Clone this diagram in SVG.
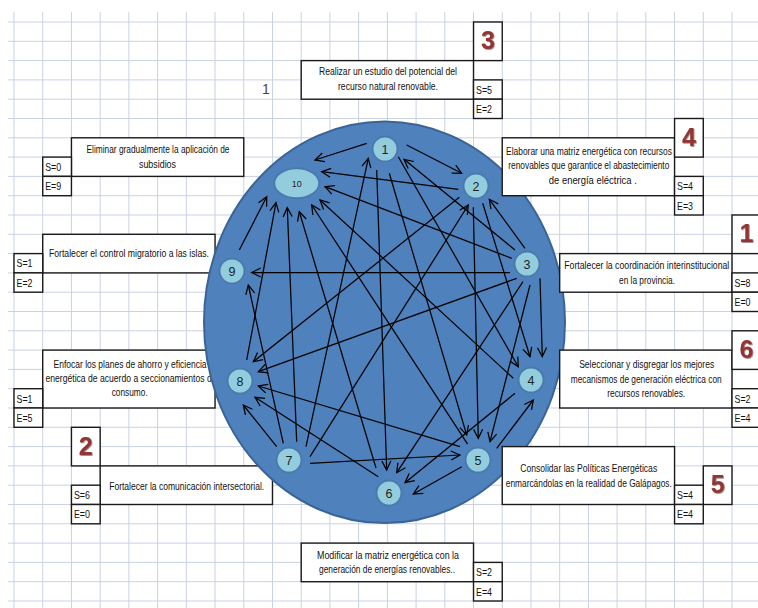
<svg xmlns="http://www.w3.org/2000/svg" width="758" height="608" viewBox="0 0 758 608">
<style>
.grid{stroke:#c9d1e3;stroke-width:1;fill:none}
.cell{fill:#fff;stroke:#1a1a1a;stroke-width:1.4}
.t{font-family:"Liberation Sans",Arial,sans-serif;font-size:10px;fill:#111;text-anchor:middle}
.se{font-family:"Liberation Sans",Arial,sans-serif;font-size:11px;fill:#111}
.big{font-family:"Liberation Sans",Arial,sans-serif;font-size:25px;font-weight:bold;fill:#943634;text-anchor:middle;filter:url(#sh)}
.nd{fill:#93cddd;stroke:#4a7aae;stroke-width:2}
.nl{font-family:"Liberation Sans",Arial,sans-serif;font-size:12.5px;fill:#1f1f1f;text-anchor:middle}
.e{stroke:#000;stroke-width:1.25;fill:none;marker-end:url(#ah)}
</style>
<defs>
<marker id="ah" markerUnits="userSpaceOnUse" markerWidth="12" markerHeight="12" viewBox="0 0 12 12" refX="10" refY="6" orient="auto">
<path d="M1,1.5 L10,6 L1,10.5" fill="none" stroke="#000" stroke-width="1.25"/>
</marker>
<filter id="sh" x="-20%" y="-20%" width="150%" height="150%">
<feDropShadow dx="0.8" dy="0.8" stdDeviation="0.3" flood-color="#4a1514" flood-opacity="0.6"/>
</filter>
</defs>
<rect width="758" height="608" fill="#fff"/>
<g id="grid">
<path class="grid" d="M14,12V608M42.72,12V608M71.44,12V608M100.16,12V608M128.88,12V608M157.6,12V608M186.32,12V608M215.04,12V608M243.76,12V608M272.48,12V608M301.2,12V608M329.92,12V608M358.64,12V608M387.36,12V608M416.08,12V608M444.8,12V608M473.52,12V608M502.24,12V608M530.96,12V608M559.68,12V608M588.4,12V608M617.12,12V608M645.84,12V608M674.56,12V608M703.28,12V608M732,12V608"/>
<path class="grid" d="M8,22H758M8,41.3H758M8,60.6H758M8,79.9H758M8,99.2H758M8,118.5H758M8,137.8H758M8,157.1H758M8,176.4H758M8,195.7H758M8,215H758M8,234.3H758M8,253.6H758M8,272.9H758M8,292.2H758M8,311.5H758M8,330.8H758M8,350.1H758M8,369.4H758M8,388.7H758M8,408H758M8,427.3H758M8,446.6H758M8,465.9H758M8,485.2H758M8,504.5H758M8,523.8H758M8,543.1H758M8,562.4H758M8,581.7H758M8,601H758"/>
</g>
<text x="266" y="94" font-family="Liberation Sans, Arial, sans-serif" font-size="14" fill="#4f4332" text-anchor="middle">1</text>

<g id="box10">
<rect class="cell" x="71.44" y="137.8" width="172.32" height="38.6"/>
<rect class="cell" x="42.72" y="157.1" width="28.72" height="19.3"/>
<rect class="cell" x="42.72" y="176.4" width="28.72" height="19.3"/>
<text class="t" x="158" y="152.8" textLength="143" lengthAdjust="spacingAndGlyphs">Eliminar gradualmente la aplicación de</text>
<text class="t" x="157.5" y="167.5" textLength="37" lengthAdjust="spacingAndGlyphs">subsidios</text>
<text class="se" x="45.2" y="170.9" textLength="16" lengthAdjust="spacingAndGlyphs">S=0</text>
<text class="se" x="45.2" y="190.2" textLength="16" lengthAdjust="spacingAndGlyphs">E=9</text>
</g>
<g id="box9">
<rect class="cell" x="42.72" y="234.3" width="172.32" height="38.6"/>
<rect class="cell" x="14" y="253.6" width="28.72" height="19.3"/>
<rect class="cell" x="14" y="272.9" width="28.72" height="19.3"/>
<text class="t" x="129" y="256.8" textLength="160" lengthAdjust="spacingAndGlyphs">Fortalecer el control migratorio a las islas.</text>
<text class="se" x="16.5" y="267.4" textLength="16" lengthAdjust="spacingAndGlyphs">S=1</text>
<text class="se" x="16.5" y="286.7" textLength="16" lengthAdjust="spacingAndGlyphs">E=2</text>
</g>
<g id="box8">
<rect class="cell" x="42.72" y="350.1" width="172.32" height="57.9"/>
<rect class="cell" x="14" y="388.7" width="28.72" height="19.3"/>
<rect class="cell" x="14" y="408" width="28.72" height="19.3"/>
<text class="t" x="130" y="367.5" textLength="153" lengthAdjust="spacingAndGlyphs">Enfocar los planes de ahorro y eficiencia</text>
<text class="t" x="131" y="381.8" textLength="171" lengthAdjust="spacingAndGlyphs">energética de acuerdo a seccionamientos de</text>
<text class="t" x="129.7" y="396.2" textLength="36" lengthAdjust="spacingAndGlyphs">consumo.</text>
<text class="se" x="16.5" y="402.5" textLength="16" lengthAdjust="spacingAndGlyphs">S=1</text>
<text class="se" x="16.5" y="421.8" textLength="16" lengthAdjust="spacingAndGlyphs">E=5</text>
</g>
<g id="box7">
<rect class="cell" x="100.16" y="465.9" width="172.32" height="38.6"/>
<rect class="cell" x="71.44" y="427.3" width="28.72" height="38.6"/>
<rect class="cell" x="71.44" y="485.2" width="28.72" height="19.3"/>
<rect class="cell" x="71.44" y="504.5" width="28.72" height="19.3"/>
<text class="big" x="85.8" y="454.6">2</text>
<text class="t" x="186.7" y="489.5" textLength="155" lengthAdjust="spacingAndGlyphs">Fortalecer la comunicación intersectorial.</text>
<text class="se" x="73.9" y="499" textLength="16" lengthAdjust="spacingAndGlyphs">S=6</text>
<text class="se" x="73.9" y="518.3" textLength="16" lengthAdjust="spacingAndGlyphs">E=0</text>
</g>

<ellipse id="bigcircle" cx="384.5" cy="322.3" rx="180.5" ry="200.8" fill="#4f81bd" stroke="#3a6496" stroke-width="2"/>

<g id="connectors">
<line class="e" x1="366.7" y1="143.3" x2="315" y2="160"/>
<line class="e" x1="406.7" y1="145" x2="461.7" y2="173.3"/>
<line class="e" x1="398.3" y1="156.7" x2="518.3" y2="366.7"/>
<line class="e" x1="389.3" y1="173.3" x2="466.7" y2="435"/>
<line class="e" x1="376.7" y1="170" x2="386.7" y2="470"/>
<line class="e" x1="458.3" y1="189.3" x2="321.7" y2="171.7"/>
<line class="e" x1="459.3" y1="197.3" x2="253.3" y2="361.7"/>
<line class="e" x1="473.3" y1="207.3" x2="478.3" y2="438.3"/>
<line class="e" x1="482.7" y1="203.3" x2="530" y2="356.7"/>
<line class="e" x1="511.7" y1="258.3" x2="325" y2="186.7"/>
<line class="e" x1="515" y1="250" x2="404" y2="159.3"/>
<line class="e" x1="525" y1="248.3" x2="489.3" y2="199.3"/>
<line class="e" x1="510" y1="272.5" x2="251.7" y2="272.5"/>
<line class="e" x1="516.7" y1="278.3" x2="258.3" y2="371.7"/>
<line class="e" x1="523" y1="281.7" x2="396.7" y2="472.7"/>
<line class="e" x1="530" y1="285" x2="490" y2="441.7"/>
<line class="e" x1="540" y1="278.3" x2="542.3" y2="356.7"/>
<line class="e" x1="513.3" y1="378.3" x2="320" y2="200"/>
<line class="e" x1="515" y1="393.3" x2="405" y2="482.7"/>
<line class="e" x1="467.6" y1="444.1" x2="311.7" y2="205"/>
<line class="e" x1="460" y1="446.7" x2="258.3" y2="386"/>
<line class="e" x1="496.7" y1="448.3" x2="533.3" y2="400"/>
<line class="e" x1="461.7" y1="466.7" x2="413.3" y2="494"/>
<line class="e" x1="376" y1="468" x2="299.3" y2="211.7"/>
<line class="e" x1="378.3" y1="476.7" x2="255" y2="397.3"/>
<line class="e" x1="296.7" y1="441.7" x2="287.3" y2="207.7"/>
<line class="e" x1="283.3" y1="443.3" x2="248.3" y2="285"/>
<line class="e" x1="276.7" y1="446.7" x2="243.3" y2="405"/>
<line class="e" x1="306" y1="446.7" x2="368.3" y2="158.3"/>
<line class="e" x1="310" y1="456.7" x2="468.3" y2="205"/>
<line class="e" x1="310" y1="463.3" x2="460" y2="455"/>
<line class="e" x1="246.7" y1="360" x2="276" y2="202.7"/>
<line class="e" x1="239.3" y1="250" x2="266.7" y2="196.7"/>
</g>

<g id="n1"><circle class="nd" cx="385" cy="149" r="12.5"/><text class="nl" x="385" y="153.5">1</text></g>
<g id="n2"><circle class="nd" cx="476" cy="186" r="12.5"/><text class="nl" x="476" y="190.5">2</text></g>
<g id="n3"><circle class="nd" cx="527" cy="264" r="12.5"/><text class="nl" x="527" y="268.5">3</text></g>
<g id="n4"><circle class="nd" cx="531" cy="380" r="12.5"/><text class="nl" x="531" y="384.5">4</text></g>
<g id="n5"><circle class="nd" cx="478" cy="460" r="12.5"/><text class="nl" x="478" y="464.5">5</text></g>
<g id="n6"><circle class="nd" cx="389" cy="493" r="12.5"/><text class="nl" x="389" y="497.5">6</text></g>
<g id="n7"><circle class="nd" cx="289" cy="460" r="12.5"/><text class="nl" x="289" y="464.5">7</text></g>
<g id="n8"><circle class="nd" cx="240" cy="381" r="12.5"/><text class="nl" x="240" y="385.5">8</text></g>
<g id="n9"><circle class="nd" cx="232" cy="271" r="12.5"/><text class="nl" x="232" y="275.5">9</text></g>
<g id="n10"><ellipse class="nd" cx="296.7" cy="183.3" rx="22.5" ry="15"/><text class="nl" x="296.7" y="186.5" style="font-size:9px">10</text></g>

<g id="box1">
<rect class="cell" x="301.2" y="60.6" width="172.32" height="38.6"/>
<rect class="cell" x="473.52" y="22" width="28.72" height="38.6"/>
<rect class="cell" x="473.52" y="79.9" width="28.72" height="19.3"/>
<rect class="cell" x="473.52" y="99.2" width="28.72" height="19.3"/>
<text class="big" x="487.9" y="49.3">3</text>
<text class="t" x="388" y="74.5" textLength="138" lengthAdjust="spacingAndGlyphs">Realizar un estudio del potencial del</text>
<text class="t" x="388" y="89.5" textLength="100" lengthAdjust="spacingAndGlyphs">recurso natural renovable.</text>
<text class="se" x="476" y="93.7" textLength="16" lengthAdjust="spacingAndGlyphs">S=5</text>
<text class="se" x="476" y="113" textLength="16" lengthAdjust="spacingAndGlyphs">E=2</text>
</g>
<g id="box2">
<rect class="cell" x="502.24" y="137.8" width="172.32" height="57.9"/>
<rect class="cell" x="674.56" y="118.5" width="28.72" height="38.6"/>
<rect class="cell" x="674.56" y="176.4" width="28.72" height="19.3"/>
<rect class="cell" x="674.56" y="195.7" width="28.72" height="19.3"/>
<text class="big" x="688.9" y="145.8">4</text>
<text class="t" x="589" y="155.2" textLength="166" lengthAdjust="spacingAndGlyphs">Elaborar una matriz energética con recursos</text>
<text class="t" x="588.8" y="169.2" textLength="161" lengthAdjust="spacingAndGlyphs">renovables que garantice el abastecimiento</text>
<text class="t" x="592.8" y="183.5" textLength="88" lengthAdjust="spacingAndGlyphs">de energía eléctrica .</text>
<text class="se" x="677" y="190.2" textLength="16" lengthAdjust="spacingAndGlyphs">S=4</text>
<text class="se" x="677" y="209.5" textLength="16" lengthAdjust="spacingAndGlyphs">E=3</text>
</g>
<g id="box3">
<rect class="cell" x="559.68" y="253.6" width="172.32" height="38.6"/>
<rect class="cell" x="732" y="215" width="28.72" height="38.6"/>
<rect class="cell" x="732" y="272.9" width="28.72" height="19.3"/>
<rect class="cell" x="732" y="292.2" width="28.72" height="19.3"/>
<text class="big" x="746.4" y="242.3">1</text>
<text class="t" x="646.8" y="268.5" textLength="165" lengthAdjust="spacingAndGlyphs">Fortalecer la coordinación interinstitucional</text>
<text class="t" x="647" y="283.5" textLength="56" lengthAdjust="spacingAndGlyphs">en la provincia.</text>
<text class="se" x="734.5" y="286.7" textLength="16" lengthAdjust="spacingAndGlyphs">S=8</text>
<text class="se" x="734.5" y="306" textLength="16" lengthAdjust="spacingAndGlyphs">E=0</text>
</g>
<g id="box4">
<rect class="cell" x="559.68" y="350.1" width="172.32" height="57.9"/>
<rect class="cell" x="732" y="330.8" width="28.72" height="38.6"/>
<rect class="cell" x="732" y="388.7" width="28.72" height="19.3"/>
<rect class="cell" x="732" y="408" width="28.72" height="19.3"/>
<text class="big" x="746.4" y="358.1">6</text>
<text class="t" x="646.7" y="367.8" textLength="135" lengthAdjust="spacingAndGlyphs">Seleccionar y disgregar los mejores</text>
<text class="t" x="646.2" y="382.5" textLength="151" lengthAdjust="spacingAndGlyphs">mecanismos de generación eléctrica con</text>
<text class="t" x="646.2" y="396.8" textLength="78" lengthAdjust="spacingAndGlyphs">recursos renovables.</text>
<text class="se" x="734.5" y="402.5" textLength="16" lengthAdjust="spacingAndGlyphs">S=2</text>
<text class="se" x="734.5" y="421.8" textLength="16" lengthAdjust="spacingAndGlyphs">E=4</text>
</g>
<g id="box5">
<rect class="cell" x="502.24" y="446.6" width="172.32" height="57.9"/>
<rect class="cell" x="703.28" y="465.9" width="28.72" height="38.6"/>
<rect class="cell" x="674.56" y="485.2" width="28.72" height="19.3"/>
<rect class="cell" x="674.56" y="504.5" width="28.72" height="19.3"/>
<text class="big" x="717.6" y="493.2">5</text>
<text class="t" x="588.7" y="471.8" textLength="137" lengthAdjust="spacingAndGlyphs">Consolidar las Políticas Energéticas</text>
<text class="t" x="588.8" y="486.8" textLength="166" lengthAdjust="spacingAndGlyphs">enmarcándolas en la realidad de Galápagos.</text>
<text class="se" x="677" y="499" textLength="16" lengthAdjust="spacingAndGlyphs">S=4</text>
<text class="se" x="677" y="518.3" textLength="16" lengthAdjust="spacingAndGlyphs">E=4</text>
</g>
<g id="box6">
<rect class="cell" x="301.2" y="543.1" width="172.32" height="38.6"/>
<rect class="cell" x="473.52" y="562.4" width="28.72" height="19.3"/>
<rect class="cell" x="473.52" y="581.7" width="28.72" height="19.3"/>
<text class="t" x="388" y="558.5" textLength="142" lengthAdjust="spacingAndGlyphs">Modificar la matriz energética  con la</text>
<text class="t" x="387" y="572.8" textLength="136" lengthAdjust="spacingAndGlyphs">generación de energías renovables..</text>
<text class="se" x="476" y="576.2" textLength="16" lengthAdjust="spacingAndGlyphs">S=2</text>
<text class="se" x="476" y="595.5" textLength="16" lengthAdjust="spacingAndGlyphs">E=4</text>
</g>
</svg>
